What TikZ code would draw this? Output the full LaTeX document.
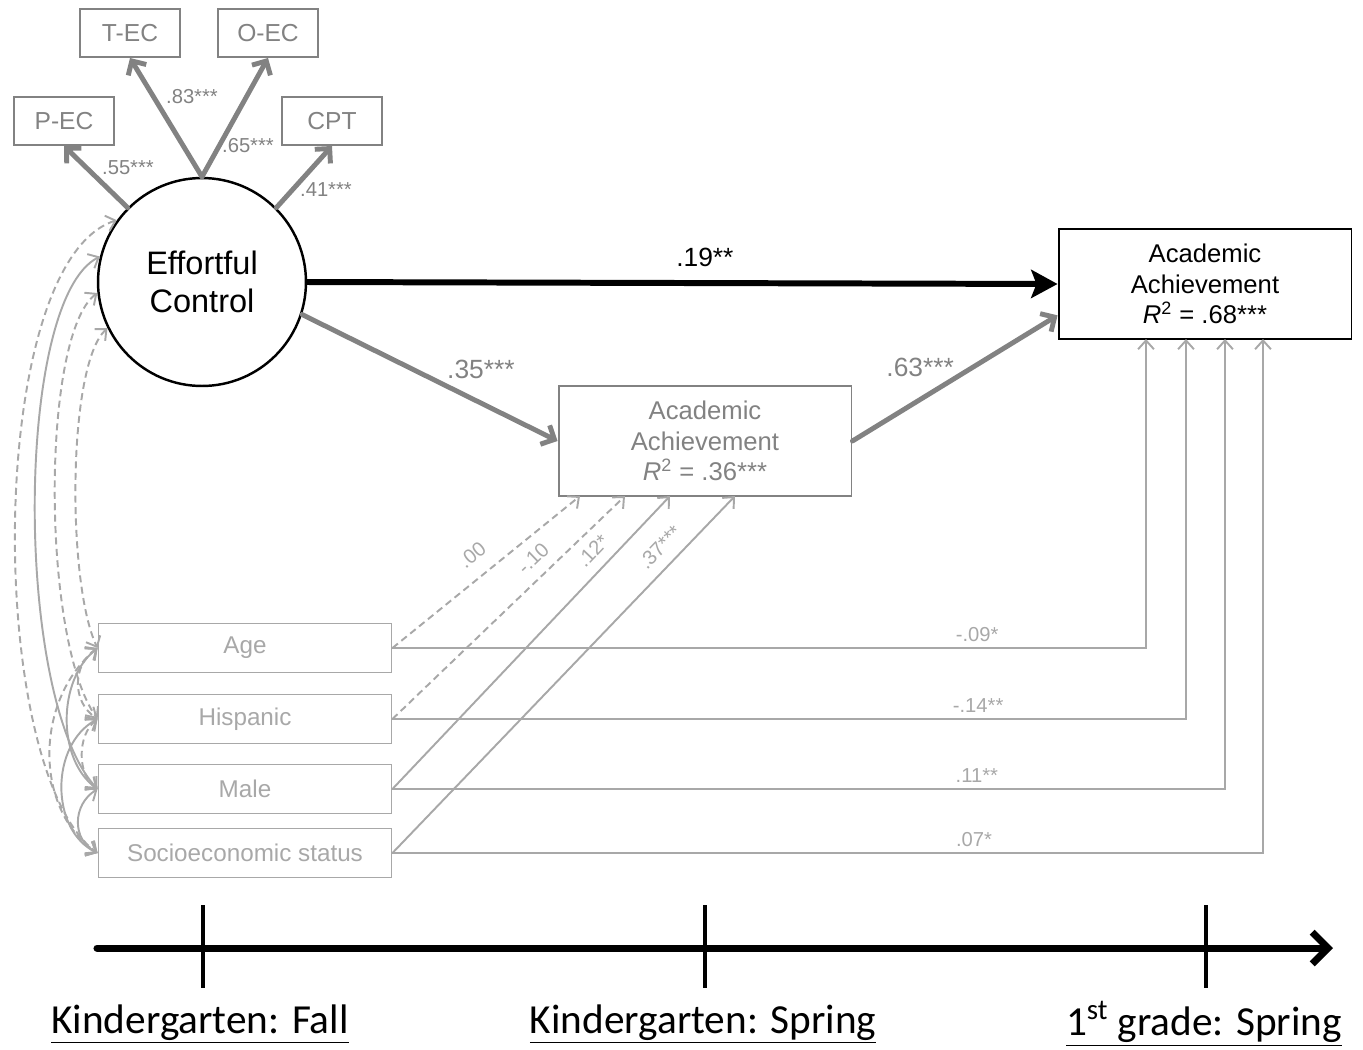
\documentclass[tikz,border=0pt]{standalone}
\usepackage{fontspec}
\setmainfont{Liberation Sans}
\newfontfamily\calibri{Carlito}
\usetikzlibrary{arrows.meta}
\usetikzlibrary{calc}

\definecolor{pathgray}{HTML}{828282}
\definecolor{covgray}{HTML}{A8A8A8}

\begin{document}
\begin{tikzpicture}[
    x=0.02cm, y=-0.02cm,
    indbox/.style={draw=pathgray, line width=1.1pt, minimum width=2cm, minimum height=0.96cm, inner sep=0pt, text=pathgray, font=\fontsize{14}{16}\selectfont},
    covbox/.style={draw=covgray, line width=1.1pt, minimum width=5.86cm, minimum height=0.98cm, inner sep=0pt, text=covgray, font=\fontsize{13.8}{16}\selectfont},
    achbox/.style={draw, line width=1.1pt, minimum width=5.86cm, minimum height=2.2cm, inner sep=0pt, align=center, font=\fontsize{14.6}{17.5}\selectfont},
    latent/.style={draw, circle, line width=1.4pt, minimum size=4.16cm, inner sep=0pt, align=center, font=\fontsize{18.5}{21.6}\selectfont},
    load/.style={-{Straight Barb[length=6pt,width=12pt]}, line width=2.8pt, pathgray, line cap=round},
    mainarr/.style={-{Stealth[length=15pt,width=16pt,inset=3pt]}, line width=3.4pt, black},
    covpath/.style={-{Straight Barb[length=5pt,width=9pt]}, line width=1.1pt, covgray},
    covar/.style={{Straight Barb[length=5pt,width=9pt]}-{Straight Barb[length=5pt,width=9pt]}, line width=1.1pt, covgray},
    cdash/.style={dash pattern=on 4pt off 2.5pt},
    bigl/.style={font=\fontsize{15}{17}\selectfont, text=pathgray},
    smalll/.style={font=\fontsize{11.5}{13}\selectfont, text=pathgray},
    covl/.style={font=\fontsize{11.5}{13}\selectfont, text=covgray, inner sep=1pt},
    timeline/.style={-{Straight Barb[length=9pt,width=18pt]}, line width=4pt, line cap=round},
    tick/.style={line width=2.3pt},
    when/.style={font=\calibri\fontsize{23.5}{26}\selectfont}
]
\useasboundingbox (0,0) rectangle (1363,1049);

% --- MEASUREMENT PART ---

% 1. Indicators
\node[indbox] (pec) at (64,121) {P-EC};
\node[indbox] (tec) at (130,33) {T-EC};
\node[indbox] (oec) at (268,33) {O-EC};
\node[indbox] (cpt) at (332,121) {CPT};

% 2. Latent factor
\node[latent] (ec) at (202,282) {Effortful\\Control};

\draw[load] (ec.135) -- (pec.south);
\draw[load] (ec.north) -- (tec.south);
\draw[load] (ec.north) -- (oec.south);
\draw[load] (ec.45) -- (cpt.south);

\node[smalll] (l55) at (128,168) {.55***};
\node[smalll] (l83) at (192,97) {.83***};
\node[smalll] (l65) at (248,146) {.65***};
\node[smalll] (l41) at (326,190) {.41***};

% --- OUTCOMES ---

\node[achbox, draw=pathgray, text=pathgray] (aa1) at (705,441)
{Academic\\Achievement\\\textit{R}\textsuperscript{2} = .36***};
\node[achbox] (aa2) at (1205,284)
{Academic\\Achievement\\\textit{R}\textsuperscript{2} = .68***};

\draw[mainarr] (ec.east) -- (aa2.west) node[pos=0.53, above=4pt, font=\fontsize{15}{17}\selectfont] {.19**};
\draw[load] (ec.-18) -- (aa1.west) node[pos=0.7, above=9pt, bigl] {.35***};
\draw[load] (aa1.east) -- (aa2.192) node[pos=0.33, above=8pt, bigl] {.63***};

% --- COVARIATES ---

\node[covbox] (age) at (245,648) {Age};
\node[covbox] (hisp) at (245,719) {Hispanic};
\node[covbox] (male) at (245,789) {Male};
\node[covbox] (ses) at (245,853) {Socioeconomic status};

\coordinate (k1) at (580,496);
\coordinate (k2) at (625,496);
\coordinate (k3) at (670,496);
\coordinate (k4) at (735,496);
\coordinate (g1) at (1146,339);
\coordinate (g2) at (1186,339);
\coordinate (g3) at (1225,339);
\coordinate (g4) at (1263,339);

% effects on kindergarten spring
\draw[covpath, cdash] (age.east) -- (k1) node[pos=0.5, sloped, above=7pt, covl] {.00};
\draw[covpath, cdash] (hisp.east) -- (k2) node[pos=0.66, sloped, above=5pt, covl] {-.10};
\draw[covpath] (male.east) -- (k3) node[pos=0.77, sloped, above=5pt, covl] {.12*};
\draw[covpath] (ses.east) -- (k4) node[pos=0.82, sloped, above=5pt, covl] {.37***};

% effects on first grade spring
\draw[covpath] (age.east) -| (g1) node[pos=0.388, above=2pt, covl] {-.09*};
\draw[covpath] (hisp.east) -| (g2) node[pos=0.369, above=2pt, covl] {-.14**};
\draw[covpath] (male.east) -| (g3) node[pos=0.351, above=2pt, covl] {.11**};
\draw[covpath] (ses.east) -| (g4) node[pos=0.334, above=2pt, covl] {.07*};

% correlations with effortful control
\draw[covar, cdash] (ec.144) .. controls (-15,262) and (-15,770) .. (ses.west);
\draw[covar] (ec.166) .. controls (14,300) and (14,700) .. (male.west);
\draw[covar, cdash] (ec.186) .. controls (41,335) and (41,640) .. (hisp.west);
\draw[covar, cdash] (ec.206) .. controls (67,365) and (67,585) .. (age.west);

% correlations among covariates
\draw[covar, cdash] (age.west) .. controls (72,665) and (72,702) .. (hisp.west);
\draw[covar] (age.west) .. controls (57,680) and (57,760) .. (male.west);
\draw[covar, cdash] (age.west) .. controls (34,700) and (34,810) .. (ses.west);
\draw[covar, cdash] (hisp.west) .. controls (77,735) and (77,775) .. (male.west);
\draw[covar] (hisp.west) .. controls (50,745) and (50,830) .. (ses.west);
\draw[covar] (male.west) .. controls (72,805) and (72,840) .. (ses.west);

% --- TIMELINE ---

\coordinate (tl0) at (97,948);
\coordinate (tl1) at (1333,948);
\draw[timeline] (tl0) -- (tl1);

\coordinate (t1a) at (203,905);
\coordinate (t1b) at (203,988);
\coordinate (t2a) at (705,905);
\coordinate (t2b) at (705,988);
\coordinate (t3a) at (1206,905);
\coordinate (t3b) at (1206,988);
\draw[tick] (t1a) -- (t1b);
\draw[tick] (t2a) -- (t2b);
\draw[tick] (t3a) -- (t3b);

\node[when] (fall) at (200,1024) {\underline{Kindergarten: Fall}};
\node[when] (kspr) at (703,1024) {\underline{Kindergarten: Spring}};
\node[when] (gspr) at (1204,1024) {\underline{1\textsuperscript{st} grade: Spring}};

\end{tikzpicture}
\end{document}
